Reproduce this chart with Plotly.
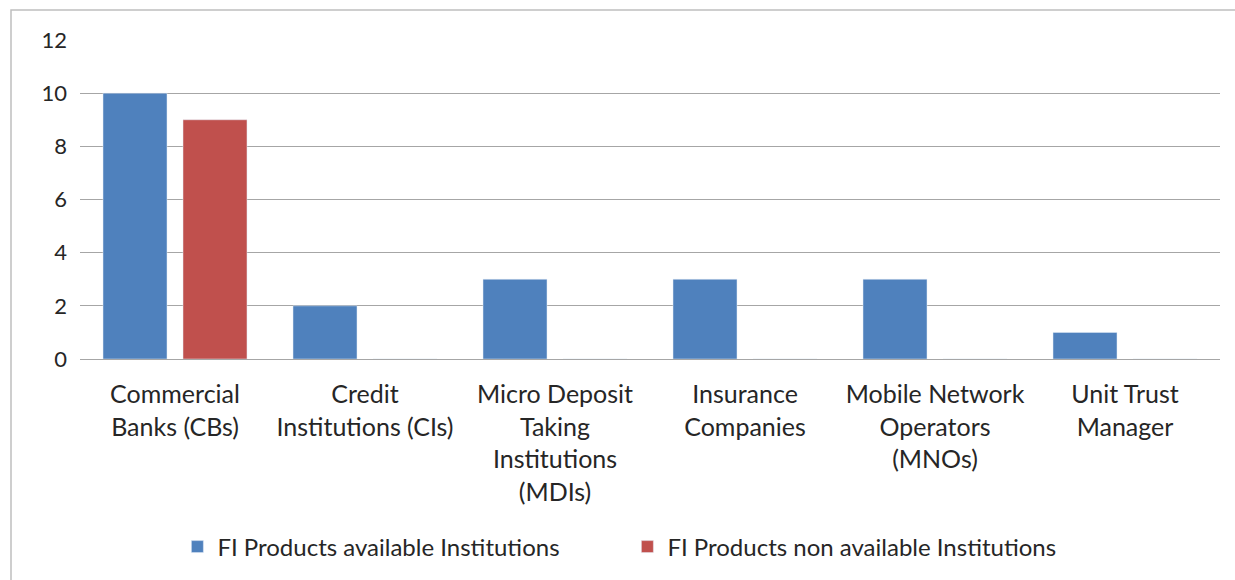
import plotly.graph_objects as go

categories = [
    "Commercial<br>Banks (CBs)",
    "Credit<br>Institutions (CIs)",
    "Micro Deposit<br>Taking<br>Institutions<br>(MDIs)",
    "Insurance<br>Companies",
    "Mobile Network<br>Operators<br>(MNOs)",
    "Unit Trust<br>Manager",
]
available = [10, 2, 3, 3, 3, 1]
non_available = [9, 0, 0, 0, 0, 0]
series_names = ["FI Products available Institutions", "FI Products non available Institutions"]
y_ticks = [0, 2, 4, 6, 8, 10, 12]

BLUE = "#4F81BD"
RED = "#C0504D"
GRID = "#A6A6A6"
FONT = "Lato"

W, H = 1235, 580
ml, mr, mt, mb = 80, 15, 40, 221

fig = go.Figure()
fig.add_trace(go.Bar(x=categories, y=available, name=series_names[0], marker_color=BLUE))
fig.add_trace(go.Bar(x=categories, y=non_available, name=series_names[1], marker_color=RED))

pw = W - ml - mr
ph = H - mt - mb
# outer frame of the chart area (left and top edges fall inside the page)
fig.add_shape(
    type="rect", xref="paper", yref="paper",
    x0=(11 - ml) / pw, x1=1 + (mr + 20) / pw,
    y0=-(mb + 20) / ph, y1=1 + (mt - 10) / ph,
    line=dict(color="#BFBFBF", width=1.5), fillcolor="rgba(0,0,0,0)", layer="below",
)

fig.update_layout(
    width=W, height=H,
    margin=dict(l=ml, r=mr, t=mt, b=mb, autoexpand=False),
    paper_bgcolor="white", plot_bgcolor="white",
    barmode="group", bargap=0.158, bargroupgap=0.2,
    font=dict(family=FONT, color="#262626"),
    showlegend=True,
    legend=dict(
        orientation="h", xref="container", yref="container",
        x=0.508, xanchor="center", y=1 - 547 / H, yanchor="middle",
        font=dict(size=24, family=FONT, color="#262626"),
        itemwidth=30, tracegroupgap=0,
        entrywidth=405, entrywidthmode="pixels",
    ),
)
fig.update_xaxes(
    showgrid=False, showline=True, linecolor=GRID, linewidth=1,
    tickfont=dict(size=25, family=FONT, color="#262626"),
    ticks="", ticklabelstandoff=13,
)
fig.update_yaxes(
    range=[0, 12], tickvals=y_ticks,
    showgrid=True, gridcolor=GRID, gridwidth=1,
    zeroline=True, zerolinecolor=GRID, zerolinewidth=1,
    showline=False, ticks="",
    tickfont=dict(size=22, family=FONT, color="#262626"),
    ticklabelstandoff=12,
)

fig.write_html("out.html")
